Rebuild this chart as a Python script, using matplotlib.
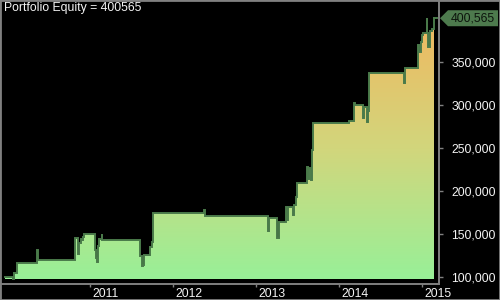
import matplotlib
matplotlib.use('Agg')
import matplotlib.pyplot as plt
import matplotlib.dates as mdates
import matplotlib.transforms as mtransforms
from matplotlib.colors import LinearSegmentedColormap
from matplotlib.patches import Polygon, Rectangle
import numpy as np
import pandas as pd

plt.rcParams['font.family'] = ['Liberation Sans', 'DejaVu Sans']

# equity curve (step points, dips are short drawdowns)
dates = [
    '2009-12-23', '2010-01-28', '2010-01-30', '2010-02-01', '2010-02-14',
    '2010-05-15', '2010-05-17', '2010-10-26', '2010-11-09', '2010-11-16',
    '2010-11-21', '2010-11-27', '2010-12-01', '2010-12-06', '2011-01-23',
    '2011-01-27', '2011-01-31', '2011-02-05', '2011-02-10', '2011-02-21',
    '2011-02-24', '2011-08-07', '2011-08-11', '2011-08-16', '2011-08-21',
    '2011-08-26', '2011-09-23', '2011-09-29', '2011-10-03', '2011-10-06',
    '2012-05-16', '2012-05-19', '2013-02-21', '2013-02-27', '2013-03-31',
    '2013-04-03', '2013-04-11', '2013-05-11', '2013-05-17', '2013-05-21',
    '2013-06-11', '2013-06-14', '2013-06-23', '2013-06-30', '2013-08-10',
    '2013-08-16', '2013-08-20', '2013-08-29', '2013-09-03', '2013-09-08',
    '2014-02-12', '2014-03-08', '2014-03-11', '2014-04-15', '2014-04-21',
    '2014-05-03', '2014-05-09', '2014-05-12', '2014-10-13', '2014-10-16',
    '2014-12-14', '2014-12-17', '2014-12-26', '2014-12-30', '2015-01-03',
    '2015-01-20', '2015-01-23', '2015-01-27', '2015-02-03', '2015-02-12',
    '2015-02-22',
]
equity = [
    100000, 97500, 105000, 104000, 116500,
    131000, 119000, 144700, 126000, 138800,
    144000, 142300, 146500, 149300, 131000,
    121400, 117400, 136000, 143500, 149300,
    143000, 135700, 124000, 112400, 113600,
    125200, 134900, 140700, 145800, 173700,
    177500, 170300, 153200, 167900, 148500,
    144700, 163600, 180700, 166000, 181400,
    171700, 183400, 193000, 208600, 228000,
    214000, 226000, 213000, 247000, 278400,
    280800, 301700, 299300, 284900, 297700,
    280300, 293000, 336600, 324900, 342400,
    369500, 361700, 373300, 381100, 383100,
    400500, 383000, 367500, 386100, 387700,
    400565,
]
line_end = '2015-03-08'

year_ticks = ['2011-01-01', '2012-01-01', '2013-01-01', '2014-01-01', '2015-01-01']
year_labels = ['2011', '2012', '2013', '2014', '2015']
y_ticks = [100000, 150000, 200000, 250000, 300000, 350000]

x_range = ['2009-12-06', '2015-03-15']
y_range = [91500, 420600]

line_c = '#4a7a4a'
grid_c = '#808080'
txt_c = '#f4f4f4'

x = mdates.date2num(pd.to_datetime(dates))

fig = plt.figure(figsize=(5, 3), dpi=100, facecolor='black')
ax = fig.add_axes([1 / 500, 16 / 300, 438 / 500, 283 / 300], facecolor='black')

ax.plot(x, equity, drawstyle='steps-post', color=line_c, lw=1.4, zorder=4,
        solid_joinstyle='miter')
ax.plot([x[-1], mdates.date2num(pd.Timestamp(line_end))], [equity[-1], equity[-1]],
        color=line_c, lw=1.4, zorder=4)

# gradient under the curve
poly = ax.fill_between(x, equity, min(equity), step='post',
                       facecolor='none', edgecolor='none')
cmap = LinearSegmentedColormap.from_list('eq', ['#98f098', '#d2d67c', '#f0b860'])
grad = np.linspace(0, 1, 256)[:, None]
img = ax.imshow(grad, cmap=cmap, origin='lower', aspect='auto', zorder=2,
                extent=[x[0], x[-1], min(equity), max(equity)])
img.set_clip_path(poly.get_paths()[0], transform=ax.transData)

ax.set_xlim(mdates.date2num(pd.to_datetime(x_range)))
ax.set_ylim(y_range)

for s in ['left', 'top']:
    ax.spines[s].set_visible(False)
for s in ['right', 'bottom']:
    ax.spines[s].set_color(grid_c)
    ax.spines[s].set_linewidth(1.4)

ax.yaxis.tick_right()
ax.set_yticks(y_ticks)
ax.set_yticklabels(['{:,}'.format(v) for v in y_ticks])
ax.tick_params(axis='y', colors=grid_c, labelcolor=txt_c, length=3, width=1,
               pad=6, labelsize=8.8)

ax.set_xticks(mdates.date2num(pd.to_datetime(year_ticks)))
ax.set_xticklabels(year_labels)
ax.tick_params(axis='x', colors=grid_c, labelcolor=txt_c, length=2.5, width=1,
               pad=0.5, labelsize=8.8)
shift = mtransforms.ScaledTranslation(2 / 100, 0, fig.dpi_scale_trans)
for lab in ax.get_xticklabels():
    lab.set_ha('left')
    lab.set_transform(lab.get_transform() + shift)

fig.text(4 / 500, 1 - 2 / 300, 'Portfolio Equity = 400565', color=txt_c,
         fontsize=8.8, ha='left', va='top')

# last value tag on the right axis
fig.canvas.draw()
xd = ax.transAxes.transform((1, 0))[0]
yd = ax.transData.transform((0, equity[-1]))[1]
tag = Polygon([(xd + 1, yd), (xd + 9, yd + 8), (xd + 59, yd + 8),
               (xd + 59, yd - 8), (xd + 9, yd - 8)], closed=True,
              facecolor='#4d7a4d', edgecolor='none',
              transform=mtransforms.IdentityTransform())
fig.add_artist(tag)
fig.text((xd + 34) / 500, yd / 300, '{:,}'.format(equity[-1]), color='#0c140c',
         fontsize=8.8, ha='center', va='center')

fig.add_artist(Rectangle((0, 0), 1, 1, transform=fig.transFigure, fill=False,
                         edgecolor=grid_c, lw=2))

fig.savefig('out.png', dpi=100, facecolor='black')
